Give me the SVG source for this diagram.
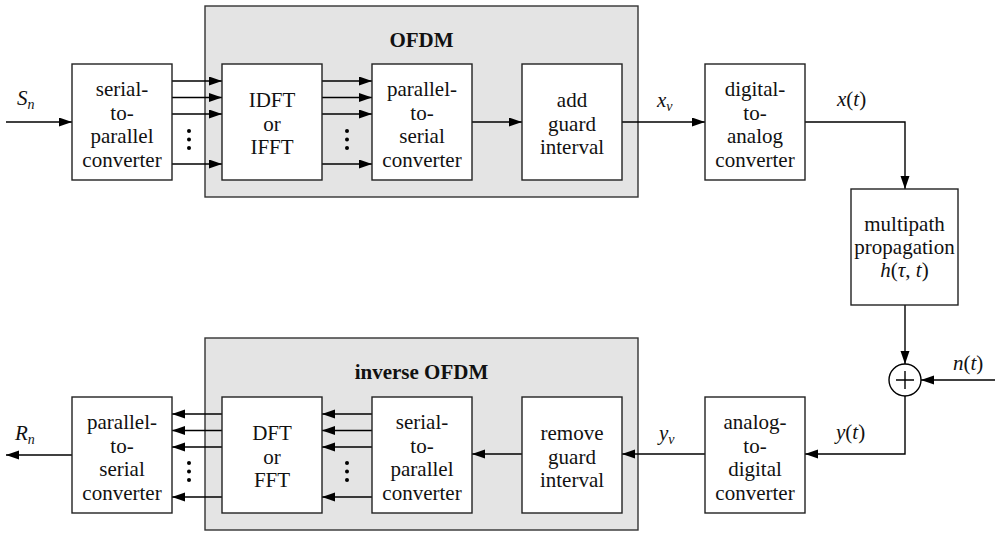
<svg xmlns="http://www.w3.org/2000/svg" width="995" height="533" viewBox="0 0 995 533" font-family="Liberation Serif" font-size="21" fill="#111">
<defs>
<marker id="ah" markerUnits="userSpaceOnUse" markerWidth="14" markerHeight="10" refX="13" refY="4.5" orient="auto">
<path d="M0,0 L13,4.5 L0,9 z" fill="#000"/>
</marker>
</defs>
<rect width="995" height="533" fill="#fff"/>

<g id="ofdm">
<rect fill="#e4e4e4" stroke="#333" stroke-width="1.4" x="205" y="6" width="433" height="191"/>
<text font-weight="bold" text-anchor="middle" x="421.5" y="47">OFDM</text>
</g>
<g id="inverse-ofdm">
<rect fill="#e4e4e4" stroke="#333" stroke-width="1.4" x="205" y="338" width="433" height="192"/>
<text font-weight="bold" text-anchor="middle" x="421.5" y="379">inverse OFDM</text>
</g>

<g id="connectors">
<g fill="none" stroke="#000" stroke-width="1.4" marker-end="url(#ah)">
<path d="M6,122 H72"/>
<path d="M172,81 H222"/>
<path d="M172,97.5 H222"/>
<path d="M172,114 H222"/>
<path d="M172,164 H222"/>
<path d="M322,81 H372"/>
<path d="M322,97.5 H372"/>
<path d="M322,114 H372"/>
<path d="M322,164 H372"/>
<path d="M472,122 H522"/>
<path d="M622,122 H705"/>
<path d="M805,122 H905 V189"/>
<path d="M905,305 V364"/>
<path d="M995,380 H921"/>
<path d="M905,396 V454 H805"/>
<path d="M705,454 H622"/>
<path d="M522,454 H472"/>
<path d="M372,414 H322"/>
<path d="M372,430.5 H322"/>
<path d="M372,447 H322"/>
<path d="M372,497 H322"/>
<path d="M222,414 H172"/>
<path d="M222,430.5 H172"/>
<path d="M222,447 H172"/>
<path d="M222,497 H172"/>
<path d="M72,455 H6"/>
</g>
<g fill="#000">
<circle cx="189" cy="131" r="2"/>
<circle cx="189" cy="139.5" r="2"/>
<circle cx="189" cy="148" r="2"/>
<circle cx="347" cy="131" r="2"/>
<circle cx="347" cy="139.5" r="2"/>
<circle cx="347" cy="148" r="2"/>
<circle cx="189" cy="463" r="2"/>
<circle cx="189" cy="471.5" r="2"/>
<circle cx="189" cy="480" r="2"/>
<circle cx="347" cy="463" r="2"/>
<circle cx="347" cy="471.5" r="2"/>
<circle cx="347" cy="480" r="2"/>
</g>
<text x="17" y="105"><tspan font-style="italic">S</tspan><tspan font-style="italic" font-size="14" dy="4">n</tspan></text>
<text x="657" y="107"><tspan font-style="italic">x</tspan><tspan font-style="italic" font-size="14" dy="4">ν</tspan></text>
<text x="837" y="106"><tspan font-style="italic">x</tspan>(<tspan font-style="italic">t</tspan>)</text>
<text x="953" y="370"><tspan font-style="italic">n</tspan>(<tspan font-style="italic">t</tspan>)</text>
<text x="836" y="439"><tspan font-style="italic">y</tspan>(<tspan font-style="italic">t</tspan>)</text>
<text x="659" y="440"><tspan font-style="italic">y</tspan><tspan font-style="italic" font-size="14" dy="4">ν</tspan></text>
<text x="15" y="440"><tspan font-style="italic">R</tspan><tspan font-style="italic" font-size="14" dy="4">n</tspan></text>
</g>

<g id="sp-top" text-anchor="middle">
<rect fill="#fff" stroke="#222" stroke-width="1.4" x="72" y="64" width="100" height="116"/>
<text x="122" y="96">serial-</text>
<text x="122" y="119.5">to-</text>
<text x="122" y="143">parallel</text>
<text x="122" y="166.5">converter</text>
</g>
<g id="idft" text-anchor="middle">
<rect fill="#fff" stroke="#222" stroke-width="1.4" x="222" y="64" width="100" height="116"/>
<text x="272" y="107">IDFT</text>
<text x="272" y="130.5">or</text>
<text x="272" y="154">IFFT</text>
</g>
<g id="ps-top" text-anchor="middle">
<rect fill="#fff" stroke="#222" stroke-width="1.4" x="372" y="64" width="100" height="116"/>
<text x="422" y="96">parallel-</text>
<text x="422" y="119.5">to-</text>
<text x="422" y="143">serial</text>
<text x="422" y="166.5">converter</text>
</g>
<g id="add-guard" text-anchor="middle">
<rect fill="#fff" stroke="#222" stroke-width="1.4" x="522" y="64" width="100" height="116"/>
<text x="572" y="107">add</text>
<text x="572" y="130.5">guard</text>
<text x="572" y="154">interval</text>
</g>
<g id="dac" text-anchor="middle">
<rect fill="#fff" stroke="#222" stroke-width="1.4" x="705" y="64" width="100" height="116"/>
<text x="755" y="96">digital-</text>
<text x="755" y="119.5">to-</text>
<text x="755" y="143">analog</text>
<text x="755" y="166.5">converter</text>
</g>
<g id="multipath" text-anchor="middle">
<rect fill="#fff" stroke="#222" stroke-width="1.4" x="851" y="189" width="107" height="116"/>
<text x="904.5" y="231">multipath</text>
<text x="904.5" y="254">propagation</text>
<text x="904.5" y="277"><tspan font-style="italic">h</tspan>(<tspan font-style="italic">τ</tspan>, <tspan font-style="italic">t</tspan>)</text>
</g>
<g id="sum">
<circle cx="905" cy="380" r="16" fill="#fff" stroke="#000" stroke-width="1.4"/>
<path fill="none" stroke="#000" stroke-width="1.4" d="M896,380 H914 M905,371 V389"/>
</g>
<g id="adc" text-anchor="middle">
<rect fill="#fff" stroke="#222" stroke-width="1.4" x="705" y="397" width="100" height="116"/>
<text x="755" y="429">analog-</text>
<text x="755" y="452.5">to-</text>
<text x="755" y="476">digital</text>
<text x="755" y="499.5">converter</text>
</g>
<g id="remove-guard" text-anchor="middle">
<rect fill="#fff" stroke="#222" stroke-width="1.4" x="522" y="397" width="100" height="116"/>
<text x="572" y="440">remove</text>
<text x="572" y="463.5">guard</text>
<text x="572" y="487">interval</text>
</g>
<g id="sp-bottom" text-anchor="middle">
<rect fill="#fff" stroke="#222" stroke-width="1.4" x="372" y="397" width="100" height="116"/>
<text x="422" y="429">serial-</text>
<text x="422" y="452.5">to-</text>
<text x="422" y="476">parallel</text>
<text x="422" y="499.5">converter</text>
</g>
<g id="dft" text-anchor="middle">
<rect fill="#fff" stroke="#222" stroke-width="1.4" x="222" y="397" width="100" height="116"/>
<text x="272" y="440">DFT</text>
<text x="272" y="463.5">or</text>
<text x="272" y="487">FFT</text>
</g>
<g id="ps-bottom" text-anchor="middle">
<rect fill="#fff" stroke="#222" stroke-width="1.4" x="72" y="397" width="100" height="116"/>
<text x="122" y="429">parallel-</text>
<text x="122" y="452.5">to-</text>
<text x="122" y="476">serial</text>
<text x="122" y="499.5">converter</text>
</g>
</svg>
